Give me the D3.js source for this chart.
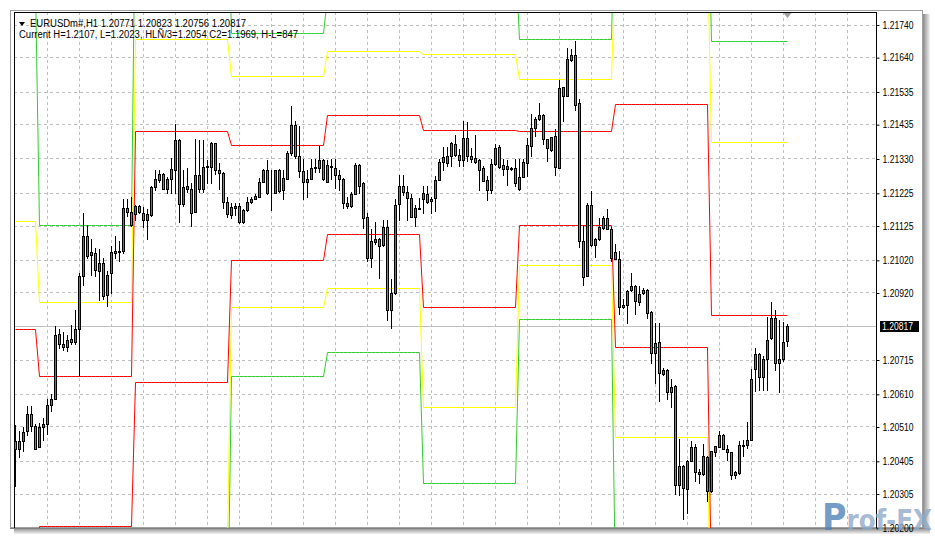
<!DOCTYPE html>
<html><head><meta charset="utf-8">
<script src="https://cdn.jsdelivr.net/npm/d3@7"></script>
<style>body{margin:0;background:#fff;overflow:hidden}svg{display:block}</style>
</head><body><svg id="c" width="935" height="539"></svg>
<script>
// ---------------- DATA ----------------
const symbol = "EURUSDm#,H1";
const lastOHLC = ["1.20771", "1.20823", "1.20756", "1.20817"];
const infoLine = "Current H=1.2107, L=1.2023, HLÑ/3=1.2054 C2=1.1969, H-L=847";
const watermark = ["P", "rof-FX"];

const opens = [1.20465,1.20442,1.20465,1.20496,1.20549,1.20513,1.20448,1.20509,1.20519,1.20577,
1.20593,1.20794,1.20763,1.20752,1.20778,1.20769,1.20807,1.20972,1.21092,1.21034,
1.21041,1.20985,1.21011,1.20912,1.20980,1.21041,1.21045,1.21046,1.21179,1.21167,
1.21159,1.21184,1.21164,1.21143,1.21156,1.21243,1.21264,1.21284,1.21237,1.21266,
1.21296,1.21388,1.21191,1.21246,1.21237,1.21166,1.21278,1.21237,1.21304,1.21305,
1.21376,1.21296,1.21286,1.21196,1.21156,1.21179,1.21186,1.21135,1.21171,1.21198,
1.21207,1.21213,1.21259,1.21294,1.21226,1.21225,1.21296,1.21233,1.21266,1.21347,
1.21431,1.21337,1.21291,1.21259,1.21268,1.21300,1.21300,1.21324,1.21257,1.21305,
1.21302,1.21281,1.21266,1.21194,1.21186,1.21222,1.21309,1.21254,1.21152,1.21026,
1.21074,1.21084,1.21064,1.21121,1.20866,1.20917,1.21192,1.21247,1.21229,1.21210,
1.21152,1.21176,1.21207,1.21222,1.21207,1.21210,1.21264,1.21320,1.21317,1.21339,
1.21373,1.21340,1.21325,1.21393,1.21337,1.21332,1.21325,1.21302,1.21263,1.21233,
1.21312,1.21366,1.21309,1.21298,1.21298,1.21302,1.21237,1.21273,1.21317,1.21368,
1.21424,1.21451,1.21462,1.21390,1.21355,1.21398,1.21302,1.21549,1.21521,1.21631,
1.21648,1.21500,1.21077,1.20970,1.21189,1.21064,1.21084,1.21118,1.21149,1.21115,
1.21043,1.21021,1.20876,1.20883,1.20927,1.20941,1.20890,1.20917,1.20929,1.20860,
1.20735,1.20769,1.20672,1.20684,1.20615,1.20635,1.20332,1.20390,1.20319,1.20404,
1.20448,1.20366,1.20366,1.20417,1.20312,1.20431,1.20448,1.20485,1.20431,1.20431,
1.20363,1.20368,1.20451,1.20452,1.20470,1.20686,1.20733,1.20662,1.20717,1.20781,
1.20843,1.20703,1.20717,1.20771];
const highs = [1.20516,1.20496,1.20509,1.20572,1.20572,1.20519,1.20521,1.20537,1.20595,1.20608,
1.20817,1.20809,1.20798,1.20791,1.20822,1.20866,1.20980,1.21162,1.21128,1.21084,
1.21057,1.21054,1.21026,1.20985,1.21062,1.21092,1.21077,1.21205,1.21205,1.21211,
1.21189,1.21189,1.21183,1.21174,1.21245,1.21294,1.21294,1.21286,1.21274,1.21332,
1.21437,1.21390,1.21296,1.21302,1.21254,1.21390,1.21388,1.21388,1.21325,1.21380,
1.21378,1.21315,1.21290,1.21213,1.21194,1.21194,1.21194,1.21176,1.21213,1.21213,
1.21220,1.21271,1.21298,1.21325,1.21294,1.21296,1.21298,1.21294,1.21352,1.21492,
1.21444,1.21429,1.21327,1.21296,1.21327,1.21327,1.21368,1.21327,1.21325,1.21327,
1.21327,1.21296,1.21269,1.21213,1.21226,1.21315,1.21312,1.21257,1.21164,1.21113,
1.21135,1.21088,1.21143,1.21143,1.20960,1.21207,1.21281,1.21281,1.21247,1.21220,
1.21189,1.21210,1.21247,1.21247,1.21211,1.21276,1.21327,1.21366,1.21366,1.21382,
1.21403,1.21358,1.21446,1.21441,1.21363,1.21403,1.21329,1.21306,1.21276,1.21327,
1.21375,1.21370,1.21327,1.21325,1.21303,1.21327,1.21327,1.21327,1.21393,1.21465,
1.21458,1.21500,1.21465,1.21391,1.21397,1.21419,1.21570,1.21550,1.21669,1.21666,
1.21691,1.21513,1.21128,1.21194,1.21230,1.21088,1.21149,1.21153,1.21174,1.21119,
1.21068,1.21046,1.20899,1.20929,1.20980,1.20944,1.20939,1.20935,1.20932,1.20862,
1.20827,1.20827,1.20690,1.20687,1.20654,1.20637,1.20472,1.20393,1.20409,1.20465,
1.20455,1.20380,1.20455,1.20419,1.20436,1.20450,1.20496,1.20488,1.20452,1.20433,
1.20373,1.20465,1.20470,1.20523,1.20686,1.20751,1.20736,1.20727,1.20846,1.20890,
1.20866,1.20835,1.20829,1.20823];
const lows = [1.20327,1.20417,1.20434,1.20483,1.20496,1.20442,1.20448,1.20470,1.20488,1.20557,
1.20593,1.20751,1.20745,1.20740,1.20761,1.20761,1.20666,1.20944,1.21026,1.20973,
1.20970,1.20896,1.20899,1.20878,1.20919,1.21026,1.21016,1.21040,1.21153,1.21125,
1.21143,1.21162,1.21119,1.21084,1.21153,1.21235,1.21257,1.21237,1.21225,1.21225,
1.21223,1.21135,1.21185,1.21229,1.21125,1.21165,1.21229,1.21229,1.21254,1.21254,
1.21284,1.21237,1.21179,1.21152,1.21149,1.21156,1.21134,1.21134,1.21168,1.21195,
1.21205,1.21211,1.21257,1.21220,1.21172,1.21223,1.21229,1.21205,1.21266,1.21342,
1.21332,1.21274,1.21205,1.21213,1.21266,1.21290,1.21290,1.21263,1.21257,1.21266,
1.21240,1.21235,1.21180,1.21179,1.21183,1.21220,1.21223,1.21118,1.21016,1.20999,
1.21067,1.20965,1.21061,1.20837,1.20812,1.20914,1.21143,1.21217,1.21143,1.21152,
1.21125,1.21174,1.21162,1.21195,1.21162,1.21169,1.21263,1.21294,1.21306,1.21306,
1.21339,1.21306,1.21306,1.21321,1.21318,1.21315,1.21235,1.21260,1.21202,1.21223,
1.21309,1.21302,1.21281,1.21250,1.21296,1.21245,1.21235,1.21272,1.21276,1.21337,
1.21400,1.21449,1.21373,1.21322,1.21354,1.21278,1.21300,1.21444,1.21520,1.21627,
1.21478,1.21060,1.20944,1.20969,1.21061,1.21030,1.21082,1.21113,1.21113,1.21016,
1.21021,1.20853,1.20874,1.20827,1.20926,1.20853,1.20883,1.20914,1.20843,1.20705,
1.20644,1.20587,1.20669,1.20593,1.20570,1.20302,1.20299,1.20227,1.20246,1.20403,
1.20343,1.20338,1.20363,1.20281,1.20311,1.20419,1.20446,1.20440,1.20409,1.20348,
1.20353,1.20366,1.20419,1.20445,1.20470,1.20618,1.20623,1.20623,1.20621,1.20779,
1.20684,1.20616,1.20709,1.20756];
const closes = [1.20440,1.20467,1.20494,1.20549,1.20513,1.20442,1.20509,1.20519,1.20577,1.20593,
1.20791,1.20761,1.20752,1.20776,1.20769,1.20807,1.20972,1.21092,1.21033,1.21045,
1.20988,1.21011,1.20909,1.20975,1.21045,1.21048,1.21047,1.21179,1.21167,1.21128,
1.21186,1.21166,1.21143,1.21159,1.21243,1.21268,1.21284,1.21237,1.21268,1.21298,
1.21388,1.21191,1.21243,1.21237,1.21164,1.21278,1.21237,1.21305,1.21306,1.21376,
1.21294,1.21286,1.21196,1.21161,1.21181,1.21186,1.21135,1.21171,1.21198,1.21205,
1.21215,1.21259,1.21294,1.21225,1.21228,1.21294,1.21230,1.21271,1.21347,1.21431,
1.21337,1.21291,1.21259,1.21268,1.21302,1.21305,1.21324,1.21266,1.21310,1.21307,
1.21281,1.21266,1.21194,1.21186,1.21222,1.21309,1.21245,1.21149,1.21026,1.21079,
1.21084,1.21062,1.21120,1.20866,1.20917,1.21189,1.21247,1.21227,1.21210,1.21152,
1.21179,1.21179,1.21225,1.21197,1.21199,1.21264,1.21320,1.21335,1.21339,1.21376,
1.21340,1.21325,1.21393,1.21337,1.21327,1.21319,1.21296,1.21261,1.21233,1.21312,
1.21363,1.21305,1.21298,1.21306,1.21302,1.21254,1.21273,1.21319,1.21370,1.21424,
1.21451,1.21462,1.21390,1.21363,1.21396,1.21305,1.21546,1.21521,1.21633,1.21648,
1.21495,1.21077,1.20968,1.21189,1.21064,1.21084,1.21121,1.21149,1.21115,1.21026,
1.21023,1.20876,1.20883,1.20924,1.20941,1.20893,1.20914,1.20929,1.20858,1.20735,
1.20766,1.20674,1.20684,1.20615,1.20631,1.20332,1.20390,1.20322,1.20404,1.20448,
1.20370,1.20370,1.20421,1.20312,1.20436,1.20450,1.20485,1.20442,1.20442,1.20363,
1.20370,1.20452,1.20453,1.20470,1.20656,1.20733,1.20662,1.20717,1.20776,1.20843,
1.20703,1.20717,1.20770,1.20817];

// daily pivot levels: first bar index of each day and level values per day
const dayStart = [0, 6, 30, 54, 78, 102, 126, 150, 174];
const levelR3 = [1.21856,1.21128,1.22184,1.21715,1.21823,1.21954,1.21696,1.22242,1.21690];
const levelR2 = [1.21138,1.20891,1.21696,1.21581,1.21658,1.21650,1.21572,1.21966,1.21380];
const levelR1 = [1.20809,1.20666,1.21415,1.21370,1.21462,1.21416,1.21413,1.21498,1.20850];
const levelS1 = [1.19760,1.20205,1.20646,1.21018,1.21100,1.20876,1.21127,1.20754,1.20010];
const levelS2 = [1.19430,1.19968,1.20159,1.20876,1.20934,1.20571,1.21003,1.20478,1.19690];
const levelS3 = [1.18757,1.19743,1.19877,1.20665,1.20738,1.20337,1.20839,1.20009,1.19170];

const priceTicks = [1.21740,1.21640,1.21535,1.21435,1.21330,1.21225,1.21125,1.21020,1.20920,
                    1.20715,1.20610,1.20510,1.20405,1.20305,1.20200];
const bidPrice = 1.20817;

// ---------------- LAYOUT ----------------
const W = 935, H = 539;
const plot = {left: 14, top: 12, right: 876, bottom: 528};
const svg = d3.select("#c");

const x = d3.scaleLinear().domain([0, 215]).range([15.5, 15.5 + 4 * 215]);
const y = d3.scaleLinear().domain([1.21740, 1.20305]).range([25, 494]);
const cy = v => Math.floor(y(v)) + 0.5;

// window frame + shadow
const defs = svg.append("defs");
const gR = defs.append("linearGradient").attr("id","shR").attr("x1","0").attr("x2","1").attr("y1","0").attr("y2","0");
gR.append("stop").attr("offset","0").attr("stop-color","#8a8a8a");
gR.append("stop").attr("offset","1").attr("stop-color","#f4f4f4");
const gB = defs.append("linearGradient").attr("id","shB").attr("x1","0").attr("x2","0").attr("y1","0").attr("y2","1");
gB.append("stop").attr("offset","0").attr("stop-color","#8a8a8a");
gB.append("stop").attr("offset","1").attr("stop-color","#f4f4f4");
svg.append("rect").attr("x",0).attr("y",0).attr("width",W).attr("height",H).attr("fill","#fff");
svg.append("rect").attr("x",923).attr("y",14).attr("width",7).attr("height",520).attr("fill","url(#shR)");
svg.append("rect").attr("x",14).attr("y",528).attr("width",916).attr("height",6).attr("fill","url(#shB)");
svg.append("rect").attr("x",10.5).attr("y",10.5).attr("width",912).attr("height",517)
  .attr("fill","#fff").attr("stroke","#a0a0a0");

defs.append("clipPath").attr("id","plotClip").append("rect")
  .attr("x",plot.left+1).attr("y",plot.top+1)
  .attr("width",plot.right-plot.left-1).attr("height",plot.bottom-plot.top-1);

const gPlot = svg.append("g").attr("clip-path","url(#plotClip)");

// grid
const vIdx = d3.range(8, 215, 8);
gPlot.append("g").selectAll("line").data(vIdx).join("line")
  .attr("x1", d => x(d)).attr("x2", d => x(d))
  .attr("y1", plot.top).attr("y2", plot.bottom)
  .attr("stroke","#c0c0c0").attr("stroke-dasharray","3,3");
gPlot.append("g").selectAll("line").data(priceTicks).join("line")
  .attr("x1", plot.left).attr("x2", plot.right)
  .attr("y1", d => cy(d)).attr("y2", d => cy(d))
  .attr("stroke","#c0c0c0").attr("stroke-dasharray","3,3");

// bid line
gPlot.append("line").attr("x1",plot.left).attr("x2",plot.right)
  .attr("y1",cy(bidPrice)).attr("y2",cy(bidPrice)).attr("stroke","#c0c0c0");

// pivot levels
const N = opens.length;
const dayOf = i => { let d = 0; for (let k = 0; k < dayStart.length; k++) if (i >= dayStart[k]) d = k; return d; };
const levels = [
  {v: levelR3, c: "#32cd32"}, {v: levelS3, c: "#32cd32"},
  {v: levelR2, c: "#ffff00"}, {v: levelS2, c: "#ffff00"},
  {v: levelR1, c: "#ff0000"}, {v: levelS1, c: "#ff0000"}
];
const lineGen = d3.line().x(d => d[0]).y(d => d[1]);
levels.forEach(L => {
  const pts = d3.range(N).map(i => [x(i), cy(L.v[dayOf(i)])]);
  gPlot.append("path").attr("d", lineGen(pts)).attr("fill","none")
    .attr("stroke", L.c).attr("stroke-width",1);
});

// candles
const candles = d3.range(N).map(i => ({i, o: opens[i], h: highs[i], l: lows[i], c: closes[i]}));
const gC = gPlot.append("g");
gC.selectAll("line.wick").data(candles).join("line").attr("class","wick")
  .attr("x1", d => x(d.i)).attr("x2", d => x(d.i))
  .attr("y1", d => Math.floor(y(d.h))).attr("y2", d => Math.floor(y(d.l)) + 1)
  .attr("stroke","#000");
gC.selectAll("rect").data(candles).join("rect")
  .attr("x", d => x(d.i) - 1)
  .attr("y", d => cy(Math.max(d.o, d.c)))
  .attr("width", 2)
  .attr("height", d => Math.max(0, cy(Math.min(d.o, d.c)) - cy(Math.max(d.o, d.c))))
  .attr("fill", d => d.c >= d.o ? "#2f8f84" : "#c4675b")
  .attr("stroke","#000").attr("stroke-width",1);

// plot borders
svg.append("line").attr("x1",plot.left+0.5).attr("x2",plot.left+0.5).attr("y1",plot.top).attr("y2",plot.bottom).attr("stroke","#000");
svg.append("line").attr("x1",plot.left).attr("x2",plot.right).attr("y1",plot.top+0.5).attr("y2",plot.top+0.5).attr("stroke","#000");
svg.append("line").attr("x1",plot.right+0.5).attr("x2",plot.right+0.5).attr("y1",plot.top).attr("y2",plot.bottom).attr("stroke","#000");
svg.append("line").attr("x1",10).attr("x2",923).attr("y1",plot.bottom+0.5).attr("y2",plot.bottom+0.5).attr("stroke","#808080");

// price axis
const axis = d3.axisRight(y).tickValues(priceTicks).tickFormat(d3.format(".5f")).tickSize(3).tickPadding(3);
const gA = svg.append("g").attr("transform", `translate(${plot.right + 0.5},0)`).call(axis);
gA.select(".domain").remove();
gA.selectAll(".tick line").attr("stroke","#000");
gA.selectAll(".tick text").attr("font-family","Liberation Sans, Arial, sans-serif")
  .attr("font-size","10px").attr("fill","#000").attr("textLength",31).attr("lengthAdjust","spacingAndGlyphs");

// bid label
const bidY = cy(bidPrice);
svg.append("rect").attr("x",880).attr("y",bidY - 5.5).attr("width",39).attr("height",11).attr("fill","#000");
svg.append("text").attr("x",882).attr("y",bidY + 3.5).text(d3.format(".5f")(bidPrice))
  .attr("font-family","Liberation Sans, Arial, sans-serif").attr("font-size","10px").attr("fill","#fff")
  .attr("textLength",31).attr("lengthAdjust","spacingAndGlyphs");

// chart shift marker
svg.append("path").attr("d", `M${x(193)-4},13 L${x(193)+4},13 L${x(193)},18 Z`).attr("fill","#a0a0a0");

// header texts
svg.append("path").attr("d","M19,22 L25,22 L22,26 Z").attr("fill","#000");
svg.append("text").attr("x",30).attr("y",26.5)
  .text(symbol + "  " + lastOHLC.join(" "))
  .attr("font-family","Liberation Sans, Arial, sans-serif").attr("font-size","10px").attr("fill","#000")
  .attr("textLength",216).attr("lengthAdjust","spacingAndGlyphs");
svg.append("text").attr("x",19).attr("y",38)
  .text(infoLine)
  .attr("font-family","Liberation Sans, Arial, sans-serif").attr("font-size","10px").attr("fill","#000")
  .attr("textLength",279).attr("lengthAdjust","spacingAndGlyphs");

// watermark
const wm = svg.append("text").attr("x",822).attr("y",530)
  .attr("font-family","DejaVu Sans, sans-serif").attr("font-weight","bold").attr("fill-opacity",0.8);
wm.append("tspan").text(watermark[0]).attr("font-size","38px").attr("fill","#4f7fb8");
wm.append("tspan").text(watermark[1]).attr("font-size","28px").attr("fill","#8fa9c9");
wm.attr("textLength",110).attr("lengthAdjust","spacingAndGlyphs");
</script></body></html>
